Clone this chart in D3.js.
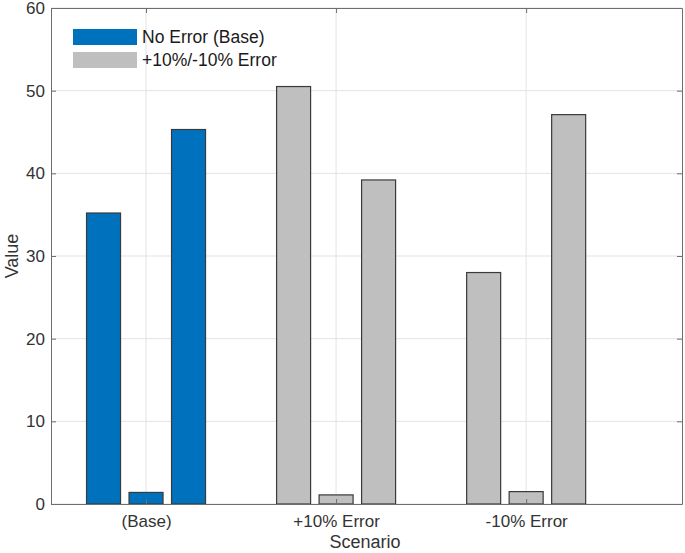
<!DOCTYPE html>
<html>
<head>
<meta charset="utf-8">
<script src="https://cdn.jsdelivr.net/npm/d3@7"></script>
<style>
  body { margin: 0; background: #fff; }
  svg { display: block; font-family: "Liberation Sans", Arial, sans-serif; }
  .axis path, .axis line { stroke: #6e6e6e; }
  .axis text { fill: #333; font-size: 17px; }
  .grid line { stroke: #e3e3e3; }
  .bar { stroke: #3a3a3a; stroke-width: 1.2; }
  .label { fill: #333; font-size: 18px; }
  .legend text { fill: #1a1a1a; font-size: 17.5px; }
</style>
</head>
<body>
<div id="chart"></div>
<script>
const categories = ['(Base)', '+10% Error', '-10% Error'];
const seriesA = [35.2, 50.5, 28.0];
const seriesB = [1.4, 1.1, 1.5];
const seriesC = [45.3, 39.2, 47.1];
const groupColors = ['#0072BD', '#BFBFBF', '#BFBFBF'];
const legendLabels = ['No Error (Base)', '+10%/-10% Error'];
const yTicks = [0, 10, 20, 30, 40, 50, 60];

const width = 685;
const height = 553;
const margins = { top: 8, right: 3, bottom: 49, left: 51 };
const innerW = width - margins.left - margins.right;
const innerH = height - margins.top - margins.bottom;

const svg = d3.select('#chart')
  .append('svg')
    .attr('width', width)
    .attr('height', height);

const graph = svg.append('g')
  .attr('transform', `translate(${margins.left}, ${margins.top})`);

// categories sit at 1, 2, 3 like a matlab bar plot
const scaleX = d3.scaleLinear()
  .domain([0.5, 3.82])
  .range([0, innerW]);
const scaleY = d3.scaleLinear()
  .domain([0, 60])
  .range([innerH, 0]);

const xTicks = categories.map((d, i) => i + 1);

// grid
graph.append('g')
  .attr('class', 'grid')
  .selectAll('line.h')
  .data(yTicks)
  .enter().append('line')
    .attr('x1', 0).attr('x2', innerW)
    .attr('y1', d => scaleY(d)).attr('y2', d => scaleY(d));
graph.append('g')
  .attr('class', 'grid')
  .selectAll('line.v')
  .data(xTicks)
  .enter().append('line')
    .attr('y1', 0).attr('y2', innerH)
    .attr('x1', d => scaleX(d)).attr('x2', d => scaleX(d));

// bars, three per category
const series = [seriesA, seriesB, seriesC];
const offset = 42.5 / (scaleX(2) - scaleX(1));
const barW = 34;
const bars = [];
categories.forEach((c, i) => {
  series.forEach((s, j) => {
    bars.push({ x: i + 1 + (j - 1) * offset, v: s[i], color: groupColors[i] });
  });
});

graph.append('g')
  .selectAll('.bar')
  .data(bars)
  .enter().append('rect')
    .attr('class', 'bar')
    .attr('x', d => scaleX(d.x) - barW / 2)
    .attr('width', barW)
    .attr('y', d => scaleY(d.v))
    .attr('height', d => scaleY(0) - scaleY(d.v))
    .attr('fill', d => d.color);

// axes (box style, ticks pointing in)
const axisX = d3.axisBottom(scaleX)
  .tickValues(xTicks)
  .tickFormat((d, i) => categories[i])
  .tickSizeInner(-5).tickSizeOuter(0).tickPadding(11);
const axisY = d3.axisLeft(scaleY)
  .tickValues(yTicks)
  .tickSizeInner(-5).tickSizeOuter(0).tickPadding(6);

graph.append('g')
  .attr('class', 'axis')
  .attr('transform', `translate(0, ${innerH})`)
  .call(axisX);
graph.append('g')
  .attr('class', 'axis')
  .call(axisY);
graph.append('g')
  .attr('class', 'axis')
  .call(d3.axisTop(scaleX).tickValues(xTicks).tickFormat('').tickSizeInner(-5).tickSizeOuter(0));
graph.append('g')
  .attr('class', 'axis')
  .attr('transform', `translate(${innerW}, 0)`)
  .call(d3.axisRight(scaleY).tickValues(yTicks).tickFormat('').tickSizeInner(-5).tickSizeOuter(0));

// labels
svg.append('text')
  .attr('class', 'label')
  .attr('text-anchor', 'middle')
  .attr('transform', `translate(18, ${margins.top + innerH / 2}) rotate(-90)`)
  .text('Value');
svg.append('text')
  .attr('class', 'label')
  .attr('text-anchor', 'middle')
  .attr('x', margins.left + scaleX(2) + 29)
  .attr('y', 548)
  .text('Scenario');

// legend
const legend = graph.append('g')
  .attr('class', 'legend')
  .attr('transform', 'translate(22, 21)');
const legendColors = ['#0072BD', '#BFBFBF'];
legendLabels.forEach((l, i) => {
  legend.append('rect')
    .attr('x', 0).attr('y', i * 23)
    .attr('width', 64).attr('height', 16)
    .attr('fill', legendColors[i]);
  legend.append('text')
    .attr('x', 69).attr('y', i * 23 + 14)
    .text(l);
});
</script>
</body>
</html>
